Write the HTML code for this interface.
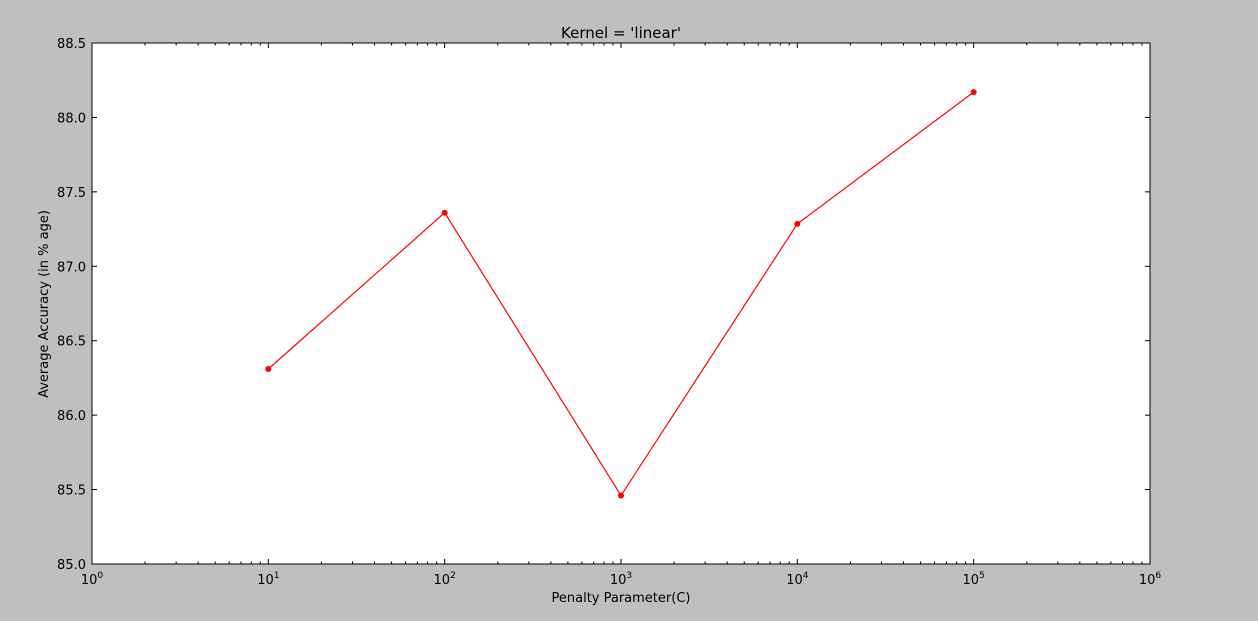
<!DOCTYPE html>
<html><head><meta charset="utf-8"><style>
html,body{margin:0;padding:0;background:#bfbfbf;}
svg{display:block;font-family:"DejaVu Sans","Liberation Sans",sans-serif;}
</style></head><body>
<svg id="chart" width="1258" height="621" xmlns="http://www.w3.org/2000/svg">
<rect x="0" y="0" width="1258" height="621" fill="#bfbfbf"/>
<rect x="92" y="43" width="1058" height="521" fill="#ffffff"/>
<text x="621" y="38" text-anchor="middle" font-size="15" fill="#000">Kernel = 'linear'</text>
<text x="621" y="602" text-anchor="middle" font-size="13" fill="#000">Penalty Parameter(C)</text>
<text transform="translate(48,304) rotate(-90)" text-anchor="middle" font-size="13" fill="#000">Average Accuracy (in % age)</text>
<g id="ticks"></g>
<g id="series"></g>
<rect x="92" y="43" width="1058" height="521" fill="none" stroke="#000" stroke-width="1"/>
</svg>
<script>
const xValues = [10, 100, 1000, 10000, 100000];
const accuracy = [86.31, 87.36, 85.46, 87.285, 88.17];
const yTicks = [85.0, 85.5, 86.0, 86.5, 87.0, 87.5, 88.0, 88.5];
const xDecades = [0, 1, 2, 3, 4, 5, 6];

const L=92,R=1150,T=43,B=564;
function xs(v){return L+(Math.log10(v)-0)/6*(R-L);}
function ys(v){return B-(v-85)/3.5*(B-T);}
const NS="http://www.w3.org/2000/svg";
function mk(tag,attrs,parent){const e=document.createElementNS(NS,tag);for(const k in attrs)e.setAttribute(k,attrs[k]);parent.appendChild(e);return e;}
const tg=document.getElementById('ticks');
yTicks.forEach(v=>{
  const y=ys(v);
  const l1=mk('line',{x1:L,x2:L+5,y1:y,y2:y,stroke:'#000'},tg);
  
  
  const l2=mk('line',{x1:R,x2:R-5,y1:y,y2:y,stroke:'#000'},tg);
  
  
  const t=mk('text',{x:L-6,y:y+5,'text-anchor':'end','font-size':13,fill:'#000'},tg);
  t.textContent=v.toFixed(1);
  
  
});
xDecades.forEach(d=>{
  const x=xs(Math.pow(10,d));
  const a=mk('line',{x1:x,x2:x,y1:B,y2:B-5,stroke:'#000'},tg);
  
  
  const b=mk('line',{x1:x,x2:x,y1:T,y2:T+5,stroke:'#000'},tg);
  
  
  const t=mk('text',{x:x,y:B+20,'text-anchor':'middle','font-size':13,fill:'#000'},tg);
  t.innerHTML='10<tspan dy="-6" font-size="9">'+d+'</tspan>';
  
  
  if(d<6){for(let m=2;m<10;m++){
    const xm=xs(m*Math.pow(10,d));
    const c=mk('line',{x1:xm,x2:xm,y1:B,y2:B-2.5,stroke:'#000'},tg);
    
    
    const e=mk('line',{x1:xm,x2:xm,y1:T,y2:T+2.5,stroke:'#000'},tg);
    
    
  }}
});
const sg=document.getElementById('series');
const pts=xValues.map((v,i)=>xs(v)+','+ys(accuracy[i])).join(' ');
const pl=mk('polyline',{points:pts,fill:'none',stroke:'#ff0000','stroke-width':1.2},sg);


xValues.forEach((v,i)=>{
  const c=mk('circle',{cx:xs(v),cy:ys(accuracy[i]),r:3,fill:'#ff0000'},sg);
  
  
});
</script>
</body></html>
